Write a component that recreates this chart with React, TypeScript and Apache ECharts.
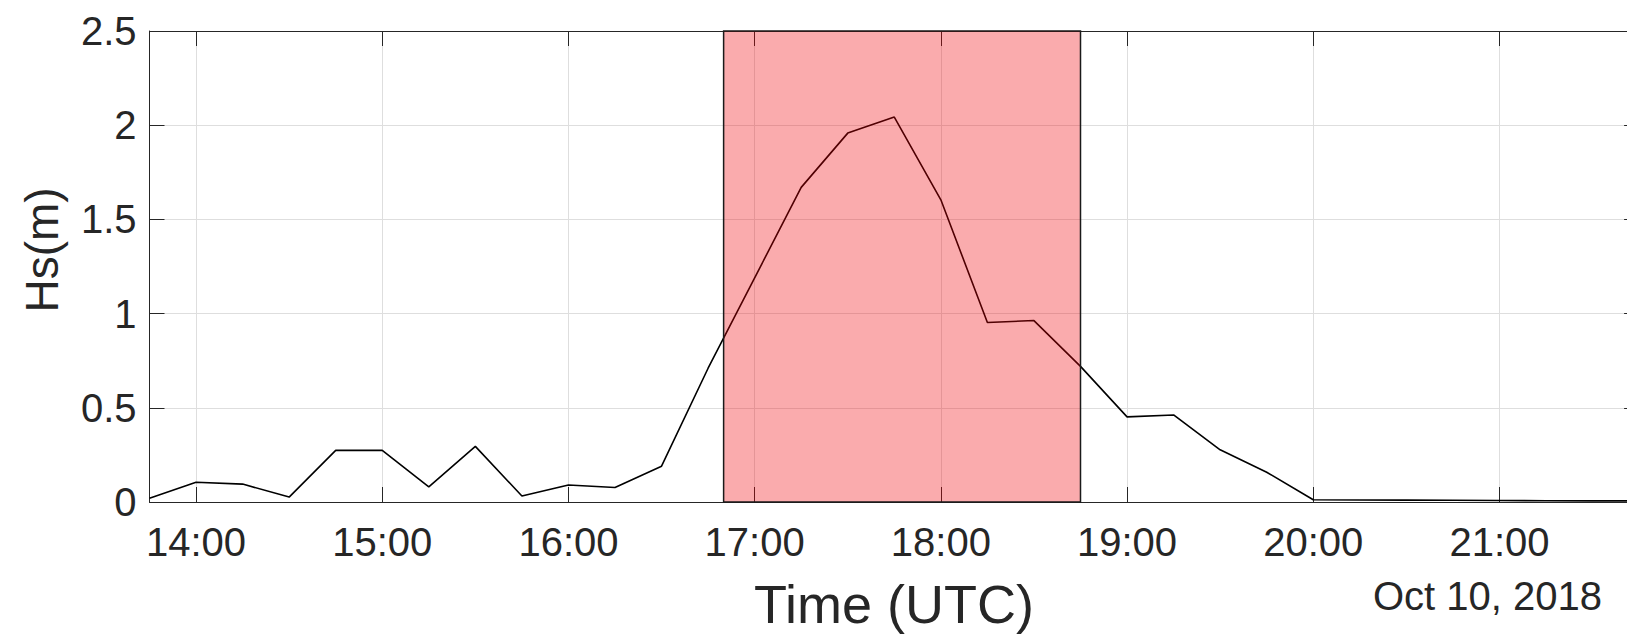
import React, { useEffect, useRef } from "react";
import * as echarts from "echarts";

// Significant wave height, 15-minute samples (UTC), 10 Oct 2018
const TIMES = [
  "13:45", "14:00", "14:15", "14:30", "14:45", "15:00", "15:15", "15:30",
  "15:45", "16:00", "16:15", "16:30", "16:45", "17:00", "17:15", "17:30",
  "17:45", "18:00", "18:15", "18:30", "18:45", "19:00", "19:15", "19:30",
  "19:45", "20:00", "20:15", "20:30", "20:45", "21:00", "21:15", "21:30",
  "21:45",
];
const HS = [
  0.02, 0.105, 0.095, 0.026, 0.274, 0.274, 0.08, 0.295,
  0.032, 0.09, 0.077, 0.19, 0.71, 1.19, 1.67, 1.958,
  2.043, 1.604, 0.953, 0.963, 0.72, 0.452, 0.462, 0.277,
  0.158, 0.012, 0.011, 0.01, 0.009, 0.008, 0.007, 0.006,
  0.006,
];
// Highlighted storm window
const SHADE = ["16:50", "18:45"];
const X_RANGE = ["13:45", "21:45"];
const Y_TICKS = [0, 0.5, 1, 1.5, 2, 2.5];

const DATE_LABEL = "Oct 10, 2018";
const X_NAME = "Time (UTC)";
const Y_NAME = "Hs(m)";

const FONT = "'Liberation Sans', Arial, Helvetica, sans-serif";
const INK = "#262626";
const GRID = "#dedede";

const toTs = (hm: string) => {
  const [h, m] = hm.split(":").map(Number);
  return Date.UTC(2018, 9, 10, h, m);
};
const pad = (n: number) => (n < 10 ? "0" + n : String(n));
const fmtTime = (v: number) => {
  const d = new Date(v);
  return pad(d.getUTCHours()) + ":" + pad(d.getUTCMinutes());
};

export default function App() {
  const ref = useRef<HTMLDivElement>(null);

  useEffect(() => {
    if (!ref.current) return;
    const chart = echarts.init(ref.current, null, { renderer: "svg" });
    const xMin = toTs(X_RANGE[0]);
    const xMax = toTs(X_RANGE[1]);
    const yMin = Y_TICKS[0];
    const yMax = Y_TICKS[Y_TICKS.length - 1];
    const HOUR = 3600 * 1000;
    const axisLine = { show: true, onZero: false, lineStyle: { color: INK, width: 1 } };
    const tick = { show: true, inside: true, length: 15, lineStyle: { color: INK, width: 1 } };

    chart.setOption({
      animation: false,
      useUTC: true,
      // plot box runs slightly past the right edge of the canvas
      grid: {
        left: 149.5,
        top: 31,
        bottom: 135,
        width: 1489.6,
        containLabel: false,
        outerBoundsMode: "none",
      },
      xAxis: [
        {
          type: "time",
          position: "bottom",
          min: xMin,
          max: xMax,
          minInterval: HOUR,
          maxInterval: HOUR,
          axisLine,
          axisTick: tick,
          axisLabel: {
            fontSize: 40,
            fontFamily: FONT,
            color: INK,
            margin: 20,
            hideOverlap: false,
            formatter: (v: number) => fmtTime(v),
          },
          splitLine: { show: true, lineStyle: { color: GRID, width: 1 } },
        },
        {
          type: "time",
          position: "top",
          min: xMin,
          max: xMax,
          minInterval: HOUR,
          maxInterval: HOUR,
          axisLine,
          axisTick: tick,
          axisLabel: { show: false },
          splitLine: { show: false },
        },
      ],
      yAxis: [
        {
          type: "value",
          position: "left",
          min: yMin,
          max: yMax,
          interval: Y_TICKS[1] - Y_TICKS[0],
          axisLine,
          axisTick: tick,
          axisLabel: {
            fontSize: 40,
            fontFamily: FONT,
            color: INK,
            margin: 13,
            formatter: (v: number) => String(v),
          },
          splitLine: { show: true, lineStyle: { color: GRID, width: 1 } },
        },
        {
          type: "value",
          position: "right",
          min: yMin,
          max: yMax,
          interval: Y_TICKS[1] - Y_TICKS[0],
          axisLine,
          axisTick: tick,
          axisLabel: { show: false },
          splitLine: { show: false },
        },
      ],
      series: [
        {
          type: "line",
          name: "Hs",
          xAxisIndex: 0,
          yAxisIndex: 0,
          data: TIMES.map((t, i) => [toTs(t), HS[i]]),
          symbol: "none",
          lineStyle: { color: "#000", width: 1.6 },
          z: 2,
        },
        {
          // translucent window drawn over the curve
          type: "custom",
          name: "window",
          xAxisIndex: 0,
          yAxisIndex: 0,
          z: 5,
          silent: true,
          encode: { x: [0, 1] },
          data: [[toTs(SHADE[0]), toTs(SHADE[1])]],
          renderItem: (_params: any, api: any) => {
            const a = api.coord([api.value(0), yMax]);
            const b = api.coord([api.value(1), yMin]);
            return {
              type: "rect",
              shape: { x: a[0], y: a[1], width: b[0] - a[0], height: b[1] - a[1] },
              style: {
                fill: "rgba(240,0,5,0.33)",
                stroke: "#1a1a1a",
                lineWidth: 1.5,
              },
            };
          },
        },
      ],
      graphic: [
        {
          type: "text",
          x: 894,
          y: 604,
          style: {
            text: X_NAME,
            fontSize: 54,
            fontFamily: FONT,
            fill: INK,
            align: "center",
            verticalAlign: "middle",
          },
        },
        {
          type: "text",
          x: 42,
          y: 250,
          rotation: Math.PI / 2,
          style: {
            text: Y_NAME,
            fontSize: 46,
            fontFamily: FONT,
            fill: INK,
            align: "center",
            verticalAlign: "middle",
          },
        },
        {
          type: "text",
          x: 1602,
          y: 596,
          style: {
            text: DATE_LABEL,
            fontSize: 40,
            fontFamily: FONT,
            fill: INK,
            align: "right",
            verticalAlign: "middle",
          },
        },
      ],
    });

    return () => chart.dispose();
  }, []);

  return (
    <div
      ref={ref}
      style={{ position: "absolute", left: 0, top: 0, width: 1627, height: 637, background: "#fff" }}
    />
  );
}
